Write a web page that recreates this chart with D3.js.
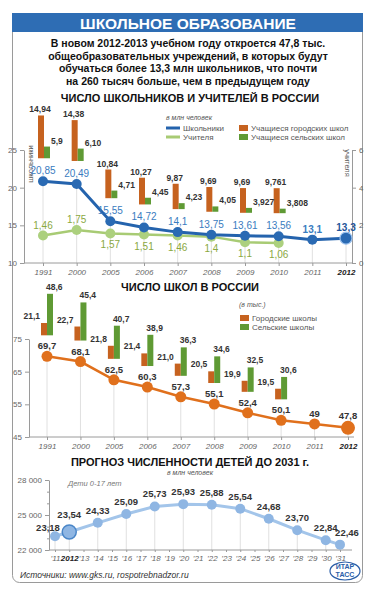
<!DOCTYPE html>
<html><head><meta charset="utf-8">
<script src="https://cdn.jsdelivr.net/npm/d3@7"></script>
<style>body{margin:0;background:#fff}svg{display:block}text{font-family:"Liberation Sans",Arial,sans-serif}</style>
</head><body>
<script>
// ---------- DATA ----------
const years = ['1991','2000','2005','2006','2007','2008','2009','2010','2011','2012'];
const pupils = ['20,85','20,49','15,55','14,72','14,1','13,75','13,61','13,56','13,1','13,3'];
const teachers = ['1,46','1,75','1,57','1,51','1,46','1,4','1,1','1,06',null,null];
const urbanPupils = ['14,94','14,38','10,84','10,27','9,87','9,69','9,69','9,761',null,null];
const ruralPupils = ['5,9','6,10','4,71','4,45','4,23','4,05','3,927','3,808',null,null];
const schools = ['69,7','68,1','62,5','60,3','57,3','55,1','52,4','50,1','49','47,8'];
const urbanSchools = ['21,1','22,7','21,8','21,4','21,0','20,5','19,9','19,5',null,null];
const ruralSchools = ['48,6','45,4','40,7','38,9','36,3','34,6','32,5','30,6',null,null];
const forecastTicks = ['’11','2012','’13','’14','’15','’16','’17','’18','’19','’20','’21','’22','’23','’24','’25','’26','’27','’28','’29','’30','’31'];
const childYears = ['’11','2012','’14','’16','’18','’20','’22','’24','’26','’28','’30','’31'];
const children = ['23,18','23,54','24,33','25,09','25,73','25,93','25,88','25,54','24,68','23,70','22,84','22,46'];
const leftTicks1 = [10,15,20,25], rightTicks1 = [0,2,4,6], leftTicks2 = [45,55,65,75];
const ticks3 = [22,23,24,25,26,27,28], labeledTicks3 = [22,25,28];

const num = s => s == null ? null : +s.replace(',', '.');
const W = 376, H = 596;
const svg = d3.select('body').append('svg').attr('width', W).attr('height', H);
const FONT_C = '#333', AX = '#9a9a9a', TICKTXT = '#666';

function styleAxis(g, italic) {
  g.select('.domain').attr('stroke', AX);
  g.selectAll('.tick line').attr('stroke', AX);
  g.selectAll('text').attr('fill', TICKTXT).style('font-size', '8px').style('font-style', italic ? 'italic' : 'normal');
}
function txt(x, y, s, o = {}) {
  return svg.append('text').attr('x', x).attr('y', y).text(s)
    .attr('text-anchor', o.anchor || 'start').attr('fill', o.fill || FONT_C)
    .style('font-size', (o.size || 9) + 'px').style('font-weight', o.weight || 'normal')
    .style('font-style', o.italic ? 'italic' : 'normal');
}

// ---------- FRAME ----------
svg.append('rect').attr('x', 12.5).attr('y', 13.5).attr('width', 350).attr('height', 569).attr('rx', 7)
  .attr('fill', '#fff').attr('stroke', '#9a9a9a');
svg.append('rect').attr('x', 12).attr('y', 13).attr('width', 351).attr('height', 19).attr('fill', '#2e6db4');
txt(188, 28.5, 'ШКОЛЬНОЕ ОБРАЗОВАНИЕ', {anchor: 'middle', fill: '#fff', size: 15.5, weight: 'bold'});
const intro = ['В новом 2012-2013 учебном году откроется 47,8 тыс.',
  'общеобразовательных учреждений, в которых будут',
  'обучаться более 13,3 млн школьников, что почти',
  'на 260 тысяч больше, чем в предыдущем году'];
intro.forEach((l, i) => txt(188, 47 + i * 12.5, l, {anchor: 'middle', fill: '#111', size: 10.5, weight: 'bold'}));

// ---------- CHART 1 ----------
txt(190, 102, 'ЧИСЛО ШКОЛЬНИКОВ И УЧИТЕЛЕЙ В РОССИИ', {anchor: 'middle', fill: '#111', size: 11, weight: 'bold'});
const x1 = d3.scalePoint().domain(years).range([43, 346]);
const yL = d3.scaleLinear().domain([10, 25]).range([263, 150]);
const yR = d3.scaleLinear().domain([0, 6]).range([263, 150]);
const h1 = d3.scaleLinear().domain([2.5, 15]).range([0, 43]);
const t1 = years.map((y, i) => ({year: y, p: num(pupils[i]), pl: pupils[i], t: num(teachers[i]), tl: teachers[i],
  u: num(urbanPupils[i]), ul: urbanPupils[i], r: num(ruralPupils[i]), rl: ruralPupils[i]}));

svg.append('g').selectAll('line').data(t1).join('line')
  .attr('x1', d => x1(d.year)).attr('x2', d => x1(d.year))
  .attr('y1', d => yL(d.p)).attr('y2', yL(10)).attr('stroke', '#e0e0e0');

styleAxis(svg.append('g').attr('transform', 'translate(24,0)')
  .call(d3.axisLeft(yL).tickValues(leftTicks1).tickFormat(d3.format('d')).tickSize(4).tickSizeOuter(0)));
styleAxis(svg.append('g').attr('transform', 'translate(352,0)')
  .call(d3.axisRight(yR).tickValues(rightTicks1).tickFormat(d3.format('d')).tickSize(4).tickSizeOuter(0)));
svg.append('line').attr('x1', 24).attr('x2', 352).attr('y1', yL(10)).attr('y2', yL(10)).attr('stroke', AX);
const xa1 = svg.append('g').attr('transform', `translate(0,${yL(10)})`).call(d3.axisBottom(x1).tickSize(3));
xa1.select('.domain').remove();
styleAxis(xa1, true);
xa1.selectAll('text').filter(d => d === '2012').attr('fill', '#222').style('font-weight', 'bold');
svg.append('text').attr('transform', `translate(33,164) rotate(-90)`).attr('text-anchor', 'middle')
  .attr('fill', '#555').style('font-size', '7.5px').text('школьники');
svg.append('text').attr('transform', `translate(345,163) rotate(90)`).attr('text-anchor', 'middle')
  .attr('fill', '#555').style('font-size', '7.5px').text('учителя');

// bars
const b1 = t1.filter(d => d.u != null);
const g1 = svg.append('g');
g1.selectAll('rect.u').data(b1).join('rect').attr('fill', '#c6621f')
  .attr('x', d => x1(d.year) - 5).attr('width', 6)
  .attr('y', d => yL(d.p) - 23 - h1(d.u)).attr('height', d => h1(d.u));
g1.selectAll('rect.r').data(b1).join('rect').attr('fill', '#5f9a34')
  .attr('x', d => x1(d.year) + 1).attr('width', 6)
  .attr('y', d => yL(d.p) - 23 - h1(d.r)).attr('height', d => h1(d.r));
b1.forEach(d => {
  txt(x1(d.year) - 3, yL(d.p) - 26 - h1(d.u), d.ul, {anchor: 'middle', size: 8.5, weight: 'bold'});
  txt(x1(d.year) + 8, yL(d.p) - 26 - h1(d.r), d.rl, {size: 8.5, weight: 'bold'});
});

// lines
const tt = t1.filter(d => d.t != null);
svg.append('path').datum(tt).attr('fill', 'none').attr('stroke', '#a8cb74').attr('stroke-width', 2.5)
  .attr('d', d3.line().x(d => x1(d.year)).y(d => yR(d.t)));
svg.append('g').selectAll('circle').data(tt).join('circle')
  .attr('cx', d => x1(d.year)).attr('cy', d => yR(d.t)).attr('r', 5).attr('fill', '#acd07e');
tt.forEach((d, i) => txt(x1(d.year), i < 2 ? yR(d.t) - 7 : yR(d.t) + 15, d.tl, {anchor: 'middle', fill: '#8aa83f', size: 10}));

svg.append('path').datum(t1).attr('fill', 'none').attr('stroke', '#2463ad').attr('stroke-width', 3)
  .attr('d', d3.line().x(d => x1(d.year)).y(d => yL(d.p)));
svg.append('g').selectAll('circle').data(t1).join('circle')
  .attr('cx', d => x1(d.year)).attr('cy', d => yL(d.p))
  .attr('r', d => d.year === '2012' ? 6 : 5).attr('fill', '#2a6ab3')
  .attr('stroke', d => d.year === '2012' ? '#9cc2ee' : 'none').attr('stroke-width', 1.2);
t1.forEach(d => txt(x1(d.year), yL(d.p) - 7, d.pl, {anchor: 'middle', fill: d.year === '2012' ? '#1f5599' : '#3a7cc0',
  size: 10, weight: d.year >= '2011' ? 'bold' : 'normal'}));

// legend 1
txt(166, 120, 'в млн человек', {fill: '#555', size: 7, italic: true});
svg.append('line').attr('x1', 166).attr('x2', 180).attr('y1', 128).attr('y2', 128).attr('stroke', '#2463ad').attr('stroke-width', 3);
svg.append('line').attr('x1', 166).attr('x2', 180).attr('y1', 137).attr('y2', 137).attr('stroke', '#a8cb74').attr('stroke-width', 3);
txt(183, 131, 'Школьники', {fill: '#555', size: 8});
txt(183, 140, 'Учителя', {fill: '#555', size: 8});
svg.append('rect').attr('x', 239).attr('y', 125).attr('width', 9).attr('height', 6).attr('fill', '#c6621f');
svg.append('rect').attr('x', 239).attr('y', 134).attr('width', 9).attr('height', 6).attr('fill', '#5f9a34');
txt(251, 131, 'Учащиеся городских школ', {fill: '#555', size: 8});
txt(251, 140, 'Учащиеся сельских школ', {fill: '#555', size: 8});

// ---------- CHART 2 ----------
txt(190, 291, 'ЧИСЛО ШКОЛ В РОССИИ', {anchor: 'middle', fill: '#111', size: 11, weight: 'bold'});
const x2 = d3.scalePoint().domain(years).range([47, 348]);
const y2 = d3.scaleLinear().domain([45, 75]).range([437, 339]);
const h2 = d3.scaleLinear().domain([9.5, 50]).range([0, 43]);
const t2 = years.map((y, i) => ({year: y, s: num(schools[i]), sl: schools[i], u: num(urbanSchools[i]), ul: urbanSchools[i],
  r: num(ruralSchools[i]), rl: ruralSchools[i]}));
svg.append('g').selectAll('line').data(t2).join('line')
  .attr('x1', d => x2(d.year)).attr('x2', d => x2(d.year))
  .attr('y1', d => y2(d.s)).attr('y2', y2(45)).attr('stroke', '#e0e0e0');
styleAxis(svg.append('g').attr('transform', 'translate(29,0)')
  .call(d3.axisLeft(y2).tickValues(leftTicks2).tickFormat(d3.format('d')).tickSize(4).tickSizeOuter(0)));
svg.append('line').attr('x1', 29).attr('x2', 354).attr('y1', y2(45)).attr('y2', y2(45)).attr('stroke', AX);
const xa2 = svg.append('g').attr('transform', `translate(0,${y2(45)})`).call(d3.axisBottom(x2).tickSize(3));
xa2.select('.domain').remove();
styleAxis(xa2, true);
xa2.selectAll('text').filter(d => d === '2012').attr('fill', '#222').style('font-weight', 'bold');

const b2 = t2.filter(d => d.u != null);
const g2 = svg.append('g');
g2.selectAll('rect.u').data(b2).join('rect').attr('fill', '#c6621f')
  .attr('x', d => x2(d.year) - 6).attr('width', 6)
  .attr('y', d => y2(d.s) - 21 - h2(d.u)).attr('height', d => h2(d.u));
g2.selectAll('rect.r').data(b2).join('rect').attr('fill', '#5f9a34')
  .attr('x', d => x2(d.year)).attr('width', 6)
  .attr('y', d => y2(d.s) - 21 - h2(d.r)).attr('height', d => h2(d.r));
b2.forEach(d => {
  txt(x2(d.year) - 7, y2(d.s) - 25 - h2(d.u), d.ul, {anchor: 'end', size: 8.5, weight: 'bold'});
  txt(x2(d.year) - 1, y2(d.s) - 25 - h2(d.r), d.rl, {size: 8.5, weight: 'bold'});
});
svg.append('path').datum(t2).attr('fill', 'none').attr('stroke', '#e0701c').attr('stroke-width', 2.5)
  .attr('d', d3.line().x(d => x2(d.year)).y(d => y2(d.s)));
svg.append('g').selectAll('circle').data(t2).join('circle')
  .attr('cx', d => x2(d.year)).attr('cy', d => y2(d.s))
  .attr('r', d => d.year === '2012' ? 7 : 5.5).attr('fill', '#e0701c');
t2.forEach(d => txt(x2(d.year), y2(d.s) - (d.year === '2012' ? 9 : 7), d.sl, {anchor: 'middle', size: 9.5, weight: 'bold'}));

txt(239, 307, '(в тыс.)', {fill: '#555', size: 7, italic: true});
svg.append('rect').attr('x', 240).attr('y', 315).attr('width', 9).attr('height', 6).attr('fill', '#c6621f');
svg.append('rect').attr('x', 240).attr('y', 324).attr('width', 9).attr('height', 6).attr('fill', '#5f9a34');
txt(252, 321, 'Городские школы', {fill: '#555', size: 8});
txt(252, 330, 'Сельские школы', {fill: '#555', size: 8});

// ---------- CHART 3 ----------
txt(190, 466, 'ПРОГНОЗ ЧИСЛЕННОСТИ ДЕТЕЙ ДО 2031 г.', {anchor: 'middle', fill: '#111', size: 11, weight: 'bold'});
txt(167, 475, 'в млн человек', {fill: '#555', size: 7, italic: true});
txt(68, 486, 'Дети 0-17 лет', {fill: '#777', size: 7.5, italic: true});
const x3 = d3.scalePoint().domain(forecastTicks).range([55, 340]);
const y3 = d3.scaleLinear().domain([22, 28]).range([550, 480]);
const t3 = childYears.map((y, i) => ({year: y, v: num(children[i]), l: children[i]}));
svg.append('g').selectAll('line').data(t3).join('line')
  .attr('x1', d => x3(d.year)).attr('x2', d => x3(d.year))
  .attr('y1', d => y3(d.v)).attr('y2', y3(22)).attr('stroke', '#e0e0e0');
const ya3 = svg.append('g').attr('transform', 'translate(49,0)')
  .call(d3.axisLeft(y3).tickValues(ticks3).tickSize(4).tickSizeOuter(0)
    .tickFormat(v => labeledTicks3.includes(v) ? d3.format(',')(v * 1000).replace(',', ' ') : ''));
styleAxis(ya3);
ya3.selectAll('.tick line').attr('x2', v => labeledTicks3.includes(v) ? -4 : -2);
svg.append('line').attr('x1', 49).attr('x2', 352).attr('y1', y3(22)).attr('y2', y3(22)).attr('stroke', AX);
const xa3 = svg.append('g').attr('transform', `translate(0,${y3(22)})`).call(d3.axisBottom(x3).tickSize(2));
xa3.select('.domain').remove();
styleAxis(xa3, true);
xa3.selectAll('text').filter(d => d === '2012').attr('fill', '#222').style('font-weight', 'bold');

svg.append('path').datum(t3).attr('fill', 'none').attr('stroke', '#a3c5ea').attr('stroke-width', 3)
  .attr('d', d3.line().x(d => x3(d.year)).y(d => y3(d.v)));
svg.append('g').selectAll('circle').data(t3).join('circle')
  .attr('cx', d => x3(d.year)).attr('cy', d => y3(d.v))
  .attr('r', d => d.year === '2012' ? 7 : 5).attr('fill', '#8fb6e3')
  .attr('stroke', d => d.year === '2012' ? '#4a86c8' : 'none').attr('stroke-width', 1.5);
t3.forEach((d, i) => {
  const dx = i === 0 ? -7 : (i === t3.length - 1 ? 7 : 0);
  const dy = i === 0 ? -5 : (d.year === '2012' ? -14 : -9);
  txt(x3(d.year) + dx, y3(d.v) + dy, d.l, {anchor: 'middle', size: 9.5, weight: 'bold'});
});

// ---------- FOOTER ----------
txt(20, 578, 'Источники: www.gks.ru, rospotrebnadzor.ru', {fill: '#333', size: 8.5, italic: true});
svg.append('ellipse').attr('cx', 345).attr('cy', 571).attr('rx', 15).attr('ry', 9)
  .attr('fill', '#fff').attr('stroke', '#2a5ea8').attr('stroke-width', 1.2);
txt(345, 569, 'ИТАР', {anchor: 'middle', fill: '#2a5ea8', size: 7, weight: 'bold'});
txt(345, 576.5, 'ТАСС', {anchor: 'middle', fill: '#2a5ea8', size: 7, weight: 'bold'});
</script>
</body></html>
